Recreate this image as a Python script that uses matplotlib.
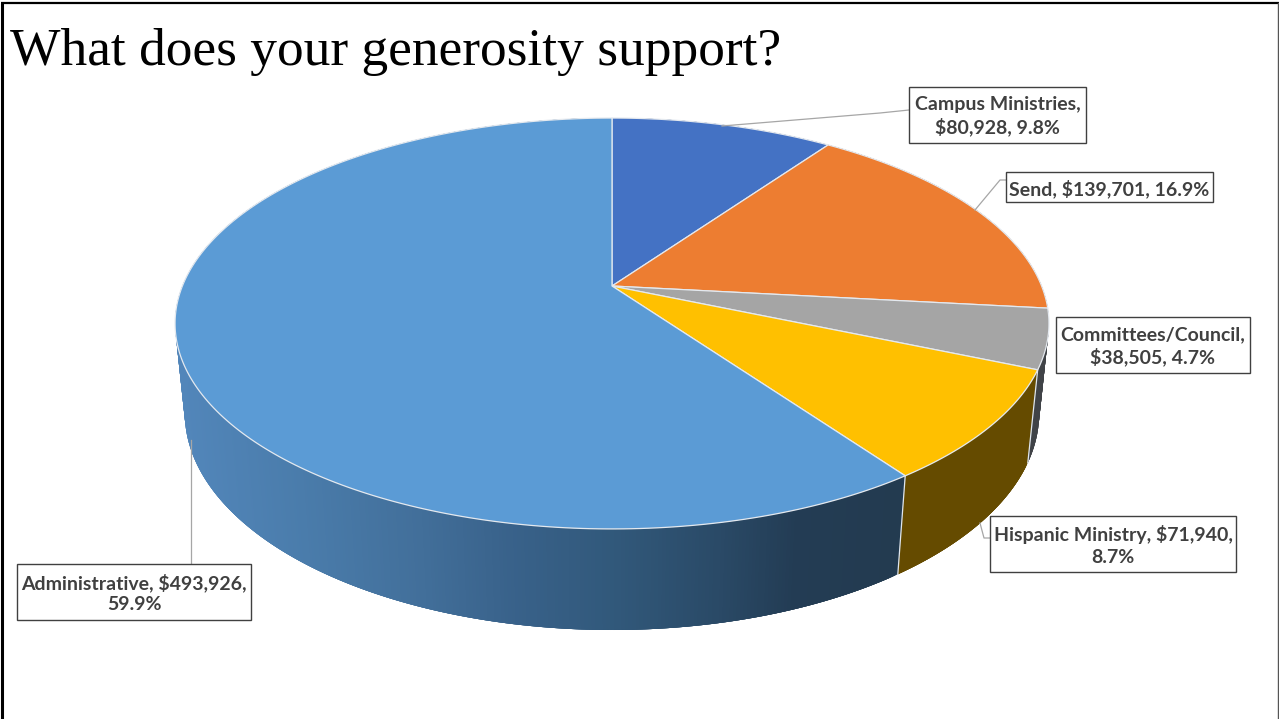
"""Budget breakdown as a 3D pie, drawn by hand with a small perspective projection."""

import matplotlib
matplotlib.use("Agg")
import matplotlib.pyplot as plt
from matplotlib.collections import PolyCollection
from matplotlib.patches import Rectangle
import numpy as np

W, H = 1279, 719

TITLE = "What does your generosity support?"
CATEGORIES = ["Campus Ministries", "Send", "Committees/Council",
              "Hispanic Ministry", "Administrative"]
AMOUNTS = [80928, 139701, 38505, 71940, 493926]
PERCENTS = [9.8, 16.9, 4.7, 8.7, 59.9]
TOP_COLORS = ["#4472c4", "#ed7d31", "#a5a5a5", "#ffc000", "#5b9bd5"]
WALL_COLORS = ["#284478", "#7f4218", "#404347", "#654b00", None]

# label text broken the way the boxes wrap it
LABEL_LINES = ["{0},\n${1:,}, {2}%", "{0}, ${1:,}, {2}%", "{0},\n${1:,}, {2}%",
               "{0}, ${1:,},\n{2}%", "{0}, ${1:,},\n{2}%"]
LABEL_BOXES = [(909, 87, 1086, 143), (1006, 172, 1213, 202),
               (1056, 317, 1250, 373), (990, 516, 1236, 572),
               (17, 564, 251, 620)]
LEADERS = [[(722, 126), (880, 113), (909, 110)],
           [(975, 210), (1000, 180), (1006, 180)],
           [],
           [(980, 523), (984, 538), (990, 538)],
           [(190.5, 440), (190.5, 564)]]

# shading of the long front wall, left to right on screen
SHADE_X = [180, 300, 420, 520, 620, 720, 800, 900]
SHADE = ["#5286ba", "#4a7cab", "#426f9a", "#386189",
         "#31587a", "#2a4a67", "#233c54", "#233b50"]

CX, CY = 612, 286
A, B, C, K, M = 429.6, 198.6, 90.2, 0.1825, 0.022


def project(theta, z):
    """Screen position of a rim point; theta runs clockwise from the back."""
    x, y = np.sin(theta), np.cos(theta)
    w = 1 + K * y + M * z
    return CX + A * x / w, CY + (-B * y + C * z) / w


def hex_rgb(c):
    return [int(c[i:i + 2], 16) / 255 for i in (1, 3, 5)]


def shade_at(x):
    rgb = np.array([hex_rgb(c) for c in SHADE])
    return tuple(np.interp(x, SHADE_X, rgb[:, i]) for i in range(3))


fig = plt.figure(figsize=(W / 100, H / 100), dpi=100)
fig.patch.set_facecolor("white")
ax = fig.add_axes([0, 0, 1, 1])
ax.set_xlim(0, W)
ax.set_ylim(H, 0)
ax.axis("off")

# slide frame
ax.plot([2, 2], [H, 3], color="black", lw=2.2, solid_capstyle="butt")
ax.plot([1, W], [3, 3], color="black", lw=1.6, solid_capstyle="butt")
ax.plot([1278, 1278], [3, H], color="#555555", lw=1.0)

fractions = np.array(AMOUNTS) / sum(AMOUNTS)
edges = np.concatenate([[0], np.cumsum(fractions)]) * 2 * np.pi

# outer walls; each strip overlaps the next few so no seams show
for i, color in enumerate(WALL_COLORS):
    ts = np.linspace(edges[i], edges[i + 1], max(int((edges[i + 1] - edges[i]) * 140), 6))
    quads, fills = [], []
    for j in range(len(ts) - 1):
        t0, t1 = ts[j], ts[min(j + 4, len(ts) - 1)]
        p = [project(t0, 0), project(t1, 0), project(t1, 1), project(t0, 1)]
        quads.append(p)
        fills.append(color if color else shade_at(p[0][0]))
    ax.add_collection(PolyCollection(quads, facecolors=fills, edgecolors="none",
                                     linewidths=0, zorder=2))
    # seam on the wall at the end of the slice
    if i in (2, 3):
        x0, y0 = project(edges[i + 1], 0)
        x1, y1 = project(edges[i + 1], 1)
        ax.plot([x0, x1], [y0, y1], color="#dfe6ee", lw=0.9, zorder=3)

# top faces
for i, color in enumerate(TOP_COLORS):
    ts = np.linspace(edges[i], edges[i + 1], 240)
    xs, ys = project(ts, 0)
    ax.fill(np.r_[CX, xs], np.r_[CY, ys], facecolor=color, edgecolor="#e4e9ef",
            lw=0.9, zorder=4, joinstyle="round")

# leader lines and value boxes
for pts in LEADERS:
    if pts:
        ax.plot(*zip(*pts), color="#a6a6a6", lw=0.9, zorder=5)

for name, amount, pct, fmt, (x0, y0, x1, y1) in zip(CATEGORIES, AMOUNTS, PERCENTS,
                                                    LABEL_LINES, LABEL_BOXES):
    ax.add_patch(Rectangle((x0, y0), x1 - x0, y1 - y0, facecolor="white",
                           edgecolor="#404040", lw=1.0, zorder=6))
    ax.text((x0 + x1) / 2, (y0 + y1) / 2 + 1.5, fmt.format(name, amount, pct),
            ha="center", va="center", family="Lato", weight="bold",
            fontsize=14.0, color="#404040", linespacing=1.3, zorder=7)

ax.text(10, 65, TITLE, family="Liberation Serif", fontsize=38.4, color="black",
        ha="left", va="baseline", zorder=7)

fig.savefig("out.png", dpi=100, facecolor="white")
